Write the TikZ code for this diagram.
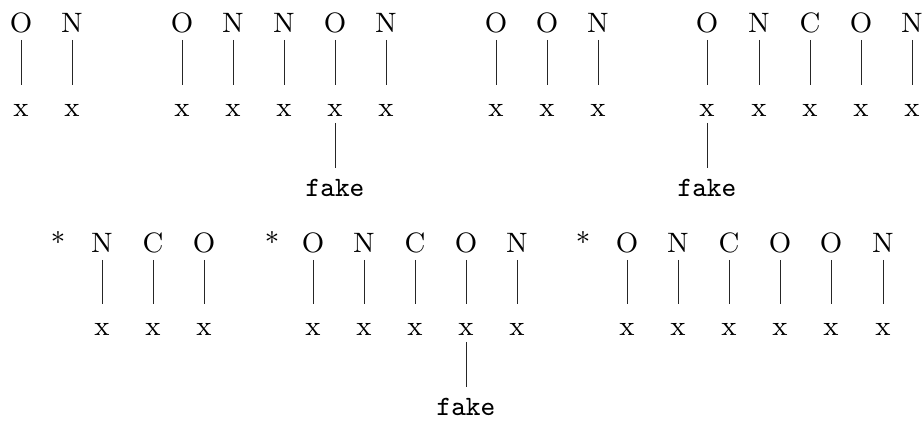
\documentclass[tikz,border=0pt]{standalone}
\begin{document}
\begin{tikzpicture}[x=0.321pt,y=-0.321pt,font=\fontsize{9}{11}\selectfont,
  lab/.style={inner sep=0pt,anchor=base},
  leaf/.style={inner sep=0pt,anchor=base},
  fk/.style={inner sep=0pt,anchor=base,font=\fontsize{9}{11}\selectfont\ttfamily},
  edge1/.style={line width=0.3pt,black!85,shorten <=2.25pt,shorten >=10.27pt},
  edge2/.style={line width=0.3pt,black!85,shorten <=1.93pt,shorten >=9.31pt}]
\useasboundingbox (0,0) rectangle (923,426);
% row 1
\foreach \t/\px [count=\i] in {O/21,N/72,O/182,N/233,N/284,O/335,N/386,O/496,O/547,N/598,O/707,N/759,C/810,O/861,N/912}{
  \node[lab] (a\i) at (\px,33) {\t};
  \node[leaf] (ax\i) at (\px,117) {x};
  \draw[edge1] (a\i.base) -- (ax\i.base);
}
\node[fk] (f1) at (335,197) {fake};
\draw[edge2] (ax6.base) -- (f1.base);
\node[fk] (f2) at (707,197) {fake};
\draw[edge2] (ax11.base) -- (f2.base);
% row 2
\node[lab] (s1) at (58,253) {*};
\node[lab] (s2) at (272,253) {*};
\node[lab] (s3) at (583,253) {*};
\foreach \t/\px [count=\i] in {N/102,C/153,O/204,O/313,N/364,C/415,O/466,N/517,O/627,N/678,C/729,O/780,O/831,N/883}{
  \node[lab] (b\i) at (\px,253) {\t};
  \node[leaf] (bx\i) at (\px,336) {x};
  \draw[edge1] (b\i.base) -- (bx\i.base);
}
\node[fk] (f3) at (466,416) {fake};
\draw[edge2] (bx7.base) -- (f3.base);
\end{tikzpicture}
\end{document}
